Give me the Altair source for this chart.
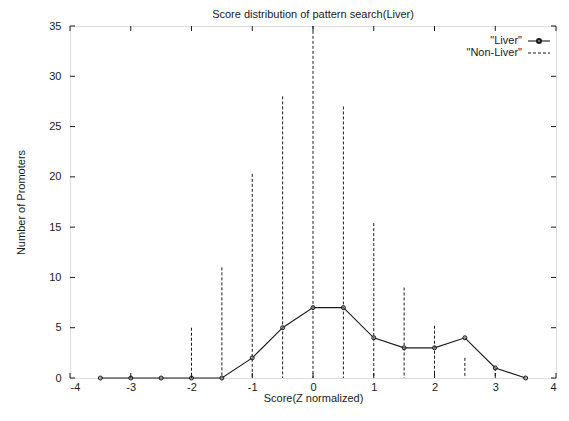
import altair as alt
import pandas as pd

scores = [-3.5, -3, -2.5, -2, -1.5, -1, -0.5, 0, 0.5, 1, 1.5, 2, 2.5, 3, 3.5]
liver = [0, 0, 0, 0, 0, 2, 5, 7, 7, 4, 3, 3, 4, 1, 0]
non_liver = [0, 0, 0, 5, 11, 20.3, 28, 38, 27, 15.4, 9, 5.2, 2, 1, 0]
x_ticks = [-4, -3, -2, -1, 0, 1, 2, 3, 4]
y_ticks = [0, 5, 10, 15, 20, 25, 30, 35]

W, H = 486, 352
FONT = "Liberation Sans"
INK = "#1a1a1a"

df = pd.DataFrame({"score": scores, "liver": liver, "nonliver": non_liver})
xt = pd.DataFrame({"t": x_ticks})
yt = pd.DataFrame({"t": y_ticks})

xs = alt.Scale(domain=[-4, 4], nice=False, zero=False)
ys = alt.Scale(domain=[0, 35], nice=False)

x_axis = alt.Axis(values=x_ticks, title="Score(Z normalized)", ticks=False, domain=False,
                  labelExpr="datum.value < 0 ? '-' + abs(datum.value) : '' + datum.value",
                  grid=False, labelPadding=3, titlePadding=0, labelFont=FONT, titleFont=FONT,
                  labelFontSize=11, titleFontSize=11, titleFontWeight="normal",
                  labelColor=INK, titleColor=INK)
y_axis = alt.Axis(values=y_ticks, format="d", title="Number of Promoters", ticks=False, domain=False,
                  grid=False, labelPadding=9, titlePadding=22, labelFont=FONT, titleFont=FONT,
                  labelFontSize=11, titleFontSize=11, titleFontWeight="normal",
                  labelColor=INK, titleColor=INK)

base = alt.Chart(df)

impulses = base.mark_rule(strokeDash=[3, 2], color=INK, strokeWidth=1, clip=True).encode(
    x=alt.X("score:Q", scale=xs, axis=x_axis),
    y=alt.Y("nonliver:Q", scale=ys, axis=y_axis),
    y2=alt.datum(0),
)

line = base.mark_line(color=INK, strokeWidth=1.1).encode(
    x=alt.X("score:Q", scale=xs),
    y=alt.Y("liver:Q", scale=ys),
)
pts = base.mark_point(shape="circle", filled=False, size=16, color=INK, strokeWidth=1,
                      fill="#999999", fillOpacity=0.6).encode(
    x=alt.X("score:Q", scale=xs),
    y=alt.Y("liver:Q", scale=ys),
)

tk = 5
xtick_b = alt.Chart(xt).mark_rule(color=INK).encode(
    x=alt.X("t:Q", scale=xs), y=alt.value(H), y2=alt.value(H - tk))
xtick_t = alt.Chart(xt).mark_rule(color=INK).encode(
    x=alt.X("t:Q", scale=xs), y=alt.value(0), y2=alt.value(tk))
ytick_l = alt.Chart(yt).mark_rule(color=INK).encode(
    y=alt.Y("t:Q", scale=ys), x=alt.value(0), x2=alt.value(tk))
ytick_r = alt.Chart(yt).mark_rule(color=INK).encode(
    y=alt.Y("t:Q", scale=ys), x=alt.value(W), x2=alt.value(W - tk))

leg_text = alt.Chart(pd.DataFrame({"label": ['"Liver"']})).mark_text(
    align="right", baseline="middle", font=FONT, fontSize=11, color=INK).encode(
    text="label:N", x=alt.value(452), y=alt.value(15))
leg_text2 = alt.Chart(pd.DataFrame({"label": ['"Non-Liver"']})).mark_text(
    align="right", baseline="middle", font=FONT, fontSize=11, color=INK).encode(
    text="label:N", x=alt.value(452), y=alt.value(27))
leg_line = alt.Chart(pd.DataFrame({"a": [0]})).mark_rule(color=INK, strokeWidth=1.1).encode(
    x=alt.value(458), x2=alt.value(480), y=alt.value(15))
leg_pt = alt.Chart(pd.DataFrame({"a": [0]})).mark_point(
    shape="circle", filled=False, size=16, color=INK, fill="#999999", fillOpacity=0.6).encode(
    x=alt.value(469), y=alt.value(15))
leg_dash = alt.Chart(pd.DataFrame({"a": [0]})).mark_rule(
    color=INK, strokeDash=[3, 2], strokeWidth=1).encode(
    x=alt.value(458), x2=alt.value(480), y=alt.value(27))

chart = alt.layer(
    impulses, line, pts, xtick_b, xtick_t, ytick_l, ytick_r,
    leg_text, leg_text2, leg_line, leg_pt, leg_dash
).properties(
    width=W, height=H,
    title=alt.TitleParams("Score distribution of pattern search(Liver)", font=FONT,
                          fontSize=11, fontWeight="normal", color=INK, offset=0),
    autosize=alt.AutoSizeParams(type="none"),
    padding={"left": 62, "top": 18, "right": 4, "bottom": 26},
).configure_view(
    stroke=INK, strokeWidth=1.2
).configure(background="white")

chart.save("out.html", embed_options={"renderer": "svg", "actions": False})
